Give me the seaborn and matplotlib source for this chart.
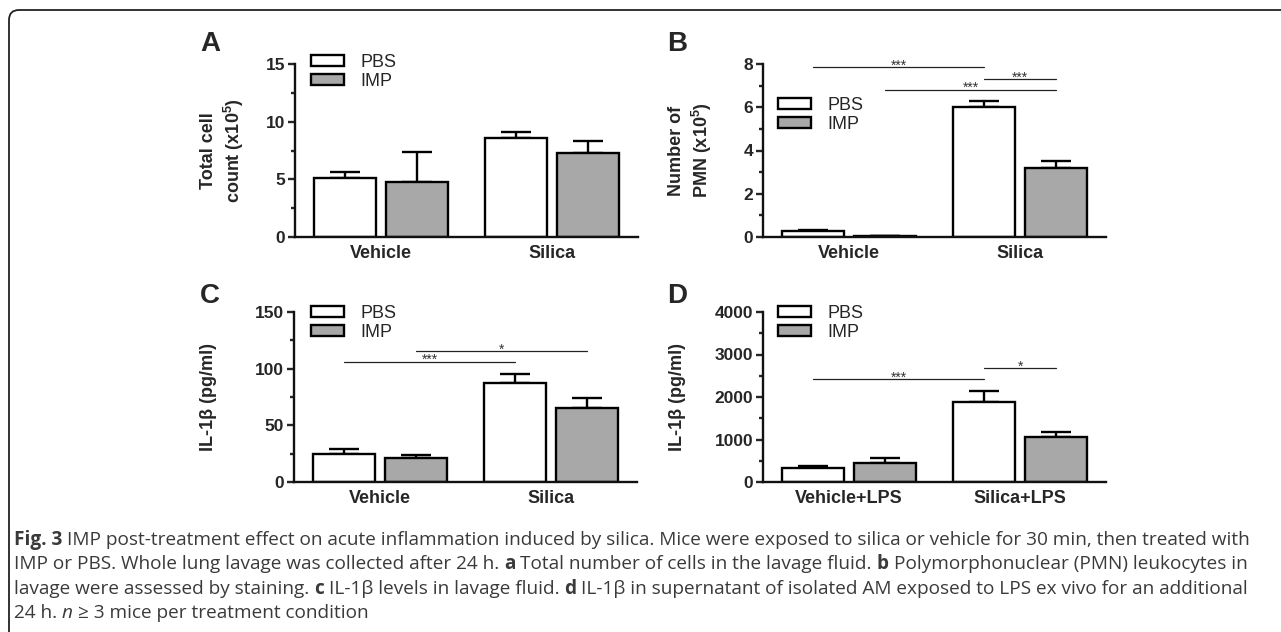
import matplotlib
matplotlib.use('Agg')
import matplotlib.pyplot as plt
import seaborn as sns
import pandas as pd
from matplotlib.patches import FancyBboxPatch
from matplotlib.ticker import MultipleLocator
from matplotlib import font_manager

# ---- values ----
treatments = ['PBS', 'IMP']
groups = ['Vehicle', 'Silica']
groups_lps = ['Vehicle+LPS', 'Silica+LPS']

cells_pbs = [5.1, 8.6]
cells_imp = [4.8, 7.3]
cells_pbs_err = [0.5, 0.5]
cells_imp_err = [2.6, 1.0]

pmn_pbs = [0.3, 6.0]
pmn_imp = [0.05, 3.2]
pmn_pbs_err = [0.03, 0.3]
pmn_imp_err = [0.01, 0.3]

il1b_pbs = [25, 87]
il1b_imp = [21, 65]
il1b_pbs_err = [4.5, 8]
il1b_imp_err = [3, 9]

lps_pbs = [330, 1880]
lps_imp = [450, 1070]
lps_pbs_err = [50, 260]
lps_imp_err = [110, 100]

# significance brackets: ((treatment, group), (treatment, group), height, stars)
sig_b = [(('PBS', 0), ('PBS', 1), 7.85, '***'),
         (('PBS', 1), ('IMP', 1), 7.3, '***'),
         (('IMP', 0), ('IMP', 1), 6.8, '***')]
sig_c = [(('PBS', 0), ('PBS', 1), 106, '***'),
         (('IMP', 0), ('IMP', 1), 115.5, '*')]
sig_d = [(('PBS', 0), ('PBS', 1), 2420, '***'),
         (('PBS', 1), ('IMP', 1), 2680, '*')]

caption_lines = [
    [('Fig. 3', 'bold', 'normal'),
     ('IMP post-treatment effect on acute inflammation induced by silica. Mice were exposed to silica or vehicle for 30 min, then treated with', 'normal', 'normal')],
    [('IMP or PBS. Whole lung lavage was collected after 24 h.', 'normal', 'normal'), ('a', 'bold', 'normal'),
     ('Total number of cells in the lavage fluid.', 'normal', 'normal'), ('b', 'bold', 'normal'),
     ('Polymorphonuclear (PMN) leukocytes in', 'normal', 'normal')],
    [('lavage were assessed by staining.', 'normal', 'normal'), ('c', 'bold', 'normal'),
     ('IL-1β levels in lavage fluid.', 'normal', 'normal'), ('d', 'bold', 'normal'),
     ('IL-1β in supernatant of isolated AM exposed to LPS ex vivo for an additional', 'normal', 'normal')],
    [('24 h.', 'normal', 'normal'), ('n', 'normal', 'italic'),
     ('≥ 3 mice per treatment condition', 'normal', 'normal')],
]

bar_colors = {'PBS': 'white', 'IMP': '#a8a8a8'}

sns.set_style('ticks')
plt.rcParams['font.family'] = ['Liberation Sans', 'DejaVu Sans']
plt.rcParams['mathtext.fontset'] = 'custom'
plt.rcParams['mathtext.rm'] = 'Liberation Sans'
plt.rcParams['mathtext.bf'] = 'Liberation Sans:bold'

W, H = 1281, 632
fig = plt.figure(figsize=(W / 100, H / 100), dpi=100)

LW = 1.7


def draw_panel(rect, cats, pbs, imp, pbs_err, imp_err, top, major, minor, ylabel, label_x,
               letter, letter_xy, legend_xy, sig):
    ax = fig.add_axes(rect)
    df = pd.DataFrame({'group': cats * 2,
                       'treatment': ['PBS'] * len(cats) + ['IMP'] * len(cats),
                       'value': pbs + imp})
    sns.barplot(data=df, x='group', y='value', hue='treatment', order=cats, hue_order=treatments,
                palette=bar_colors, edgecolor='black', linewidth=LW, width=0.84, gap=0.14,
                errorbar=None, legend=False, ax=ax, zorder=2)
    bar_containers = list(ax.containers)

    # one-sided error bars drawn behind the bars
    errs = {'PBS': pbs_err, 'IMP': imp_err}
    centers = {}
    for cont, trt in zip(bar_containers, treatments):
        for i, (bar, e) in enumerate(zip(cont, errs[trt])):
            xc = bar.get_x() + bar.get_width() / 2
            centers[(trt, i)] = xc
            ax.errorbar(xc, bar.get_height(), yerr=[[0], [e]], fmt='none', ecolor='black',
                        elinewidth=LW, capsize=10.5, capthick=LW, zorder=1)

    for a, b, y, stars in sig:
        ax.plot([centers[a], centers[b]], [y, y], color='#222222', lw=0.9, clip_on=False)
        ax.annotate(stars, xy=((centers[a] + centers[b]) / 2, y), xytext=(0, -1.6),
                    textcoords='offset points', ha='center', va='baseline', fontsize=10,
                    color='#333333', annotation_clip=False)

    ax.set_xlim(-0.5, 1.5)
    ax.set_ylim(0, top)
    ax.yaxis.set_major_locator(MultipleLocator(major))
    ax.yaxis.set_minor_locator(MultipleLocator(minor))
    sns.despine(ax=ax)
    for s in ['left', 'bottom']:
        ax.spines[s].set_linewidth(LW)
        ax.spines[s].set_color('#111111')
    ax.tick_params(axis='y', which='major', length=5, width=LW, pad=2, labelsize=12.5)
    ax.tick_params(axis='y', which='minor', length=3, width=LW)
    ax.tick_params(axis='x', length=0, pad=6, labelsize=13)
    for t in ax.get_xticklabels() + ax.get_yticklabels():
        t.set_fontweight('bold')
    ax.set_xlabel('')
    ax.set_ylabel(ylabel, fontsize=13, fontweight='bold', va='center', ha='center',
                  linespacing=1.25)
    ax.yaxis.set_label_coords(label_x, 0.5)

    handles = [cont.patches[0] for cont in bar_containers]
    ax.legend(handles, treatments, loc='upper left', bbox_to_anchor=legend_xy,
              bbox_transform=fig.transFigure, frameon=False, fontsize=13,
              handlelength=1.85, handleheight=0.55, handletextpad=0.9, labelspacing=0.12,
              borderpad=0, borderaxespad=0)

    fig.text(letter_xy[0] / W, 1 - letter_xy[1] / H, letter, fontsize=20, fontweight='bold',
             ha='left', va='top')
    return ax


aw = 343 / W
draw_panel([295 / W, 1 - 237 / H, aw, 173 / H], groups, cells_pbs, cells_imp,
           cells_pbs_err, cells_imp_err, 15, 5, 2.5,
           'Total cell\ncount (x10$^{\\mathbf{5}}$)', -0.21, 'A', (200, 31), (311 / W, 1 - 54 / H), [])
draw_panel([763 / W, 1 - 237 / H, aw, 173 / H], groups, pmn_pbs, pmn_imp,
           pmn_pbs_err, pmn_imp_err, 8, 2, 1,
           'Number of\nPMN (x10$^{\\mathbf{5}}$)', -0.21, 'B', (667, 31), (778 / W, 1 - 97 / H), sig_b)
draw_panel([294 / W, 1 - 482 / H, aw, 170 / H], groups, il1b_pbs, il1b_imp,
           il1b_pbs_err, il1b_imp_err, 150, 50, 25,
           'IL-1β (pg/ml)', -0.25, 'C', (200, 283), (311 / W, 1 - 305 / H), sig_c)
draw_panel([763 / W, 1 - 482 / H, aw, 170 / H], groups_lps, lps_pbs, lps_imp,
           lps_pbs_err, lps_imp_err, 4000, 1000, 500,
           'IL-1β (pg/ml)', -0.25, 'D', (667, 283), (778 / W, 1 - 305 / H), sig_d)

# ---- caption, laid out segment by segment ----
installed = {f.name for f in font_manager.fontManager.ttflist}
cap_family = 'Liberation Sans Narrow' if 'Liberation Sans Narrow' in installed else 'Open Sans'
cap_color = '#3a3a3a'
renderer = fig.canvas.get_renderer()


def text_width(s, size, weight='normal', style='normal'):
    t = fig.text(0, 0, s, fontsize=size, fontweight=weight, fontstyle=style, family=cap_family)
    w = t.get_window_extent(renderer).width
    t.remove()
    return w


def line_width(segs, size):
    space = text_width('a a', size) - text_width('aa', size)
    return sum(text_width(s, size, wt, st) for s, wt, st in segs) + space * (len(segs) - 1)


cap_size = 10 * 1239 / line_width(caption_lines[0], 10)
space_w = text_width('a a', cap_size) - text_width('aa', cap_size)
for segs, y in zip(caption_lines, [540, 564, 589, 613]):
    x = 14
    for s, wt, st in segs:
        t = fig.text(x / W, 1 - y / H, s, fontsize=cap_size, fontweight=wt, fontstyle=st,
                     family=[cap_family, 'DejaVu Sans'], color=cap_color, ha='left', va='center')
        x += t.get_window_extent(renderer).width + space_w

# rounded frame around the whole figure
fig.patches.append(FancyBboxPatch((9 / W, -0.2), 1.2, 1 - 10 / H + 0.2,
                                  boxstyle=f'round,pad=0,rounding_size={10 / W}',
                                  mutation_aspect=W / H, transform=fig.transFigure,
                                  fill=False, ec='#222222', lw=1.3, figure=fig))

fig.savefig('out.png', dpi=100)
